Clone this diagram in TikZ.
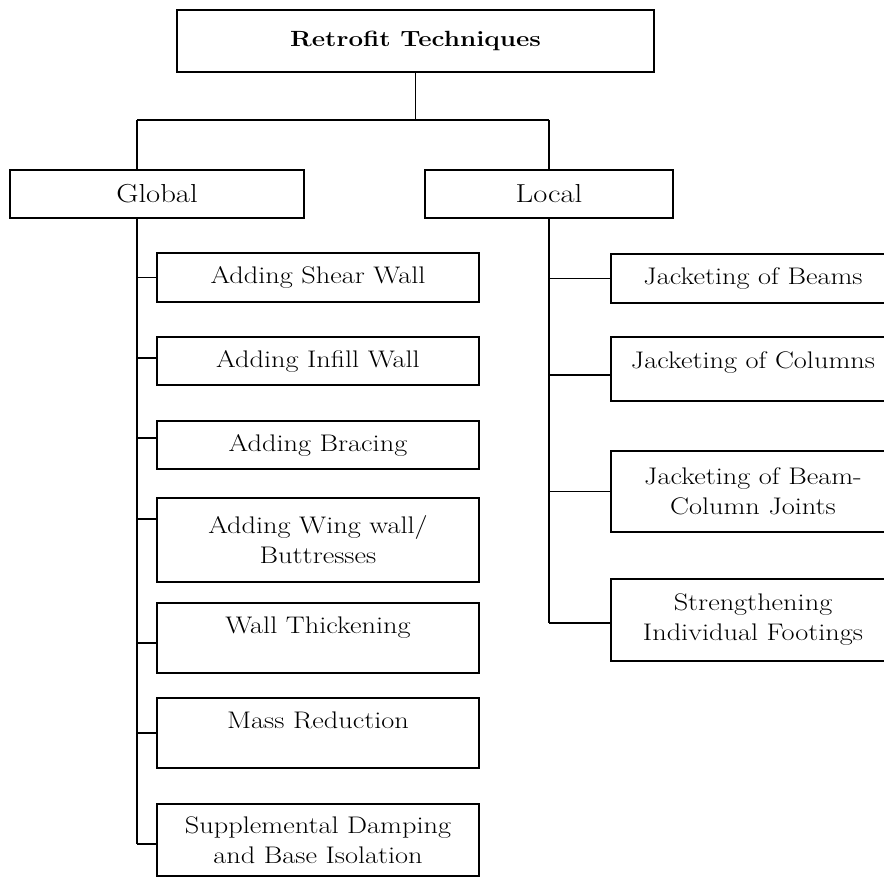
\documentclass[tikz,border=0pt]{standalone}
\usepackage{fontspec}
\setmainfont{Latin Modern Roman}[FakeStretch=1.18]
\usepackage{tikz}
\usetikzlibrary{positioning, calc}

\tikzset{
  box/.style={draw, rectangle, inner sep=0pt, align=center, font=\fontsize{24}{30}\selectfont},
  upper/.style={text height=16pt, text depth=#1}
}

\begin{document}
\begin{tikzpicture}[x=1pt, y=-1pt, line width=1.9pt]
\useasboundingbox (0,0) rectangle (884,884);

% Top box
\node[box, minimum width=477pt, minimum height=62pt, font=\fontsize{22}{30}\selectfont\bfseries] (root) at (415.5,41) {Retrofit Techniques};

% Global and local boxes
\node[box, minimum width=294pt, minimum height=48pt, font=\fontsize{26}{30}\selectfont] (glob) at (157,194) {Global};
\node[box, minimum width=248pt, minimum height=48pt, font=\fontsize{26}{30}\selectfont] (loc) at (549,194) {Local};

\coordinate (gsplit) at (137,120);
\coordinate (lsplit) at (549,120);
\draw (root.south) -- (root.south |- gsplit);
\draw (gsplit) -- (lsplit);
\draw (gsplit) -- (gsplit |- glob.north);
\draw (lsplit) -- (loc.north);

% Global techniques
\node[box, minimum width=322pt, minimum height=49pt] (g1) at (318,277.5) {Adding Shear Wall};
\node[box, minimum width=322pt, minimum height=48pt] (g2) at (318,361) {Adding Infill Wall};
\node[box, minimum width=322pt, minimum height=48pt] (g3) at (318,445) {Adding Bracing};
\node[box, minimum width=322pt, minimum height=84pt] (g4) at (318,540) {Adding Wing wall/\\Buttresses};
\node[box, upper=26pt, minimum width=322pt, minimum height=70pt] (g5) at (318,638) {Wall Thickening};
\node[box, upper=26pt, minimum width=322pt, minimum height=70pt] (g6) at (318,733) {Mass Reduction};
\node[box, minimum width=322pt, minimum height=72pt] (g7) at (318,840) {Supplemental Damping\\and Base Isolation};

\draw (gsplit |- glob.south) -- ([yshift=-4pt]gsplit |- g7.west);
\draw (gsplit |- g1.west) -- (g1.west);
\draw ([yshift=3pt]g2.west) -- ([yshift=3pt]gsplit |- g2.west);
\draw ([yshift=7pt]g3.west) -- ([yshift=7pt]gsplit |- g3.west);
\draw ([yshift=21pt]g4.west) -- ([yshift=21pt]gsplit |- g4.west);
\draw ([yshift=-5pt]g5.west) -- ([yshift=-5pt]gsplit |- g5.west);
\draw (gsplit |- g6.west) -- (g6.west);
\draw ([yshift=-4pt]g7.west) -- ([yshift=-4pt]gsplit |- g7.west);

% Local techniques
\node[box, minimum width=284pt, minimum height=49pt] (l1) at (753,278.5) {Jacketing of Beams};
\node[box, upper=18pt, minimum width=284pt, minimum height=64pt] (l2) at (753,369) {Jacketing of Columns};
\node[box, minimum width=284pt, minimum height=81pt] (l3) at (753,491.5) {Jacketing of Beam-\\Column Joints};
\node[box, minimum width=284pt, minimum height=82pt] (l4) at (753,620) {Strengthening\\Individual Footings};

\draw (loc.south) -- ([yshift=-3pt]loc.south |- l4.west);
\draw (loc.south |- l1.west) -- (l1.west);
\draw ([yshift=-6pt]l2.west) -- ([yshift=-6pt]loc.south |- l2.west);
\draw (loc.south |- l3.west) -- (l3.west);
\draw ([yshift=-3pt]l4.west) -- ([yshift=-3pt]loc.south |- l4.west);

\end{tikzpicture}
\end{document}
